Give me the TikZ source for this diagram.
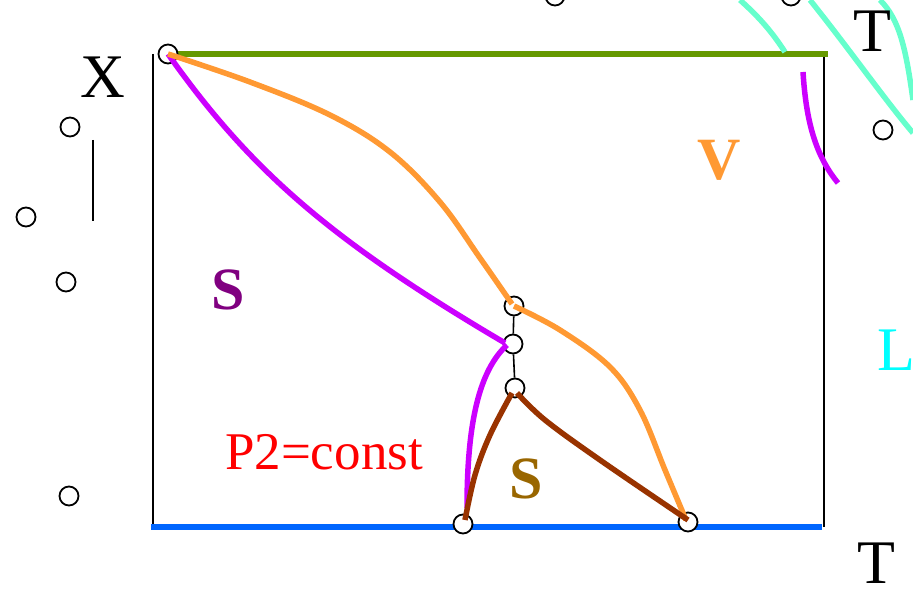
\documentclass[tikz,border=0pt]{standalone}
\usepackage{fontspec}
\setmainfont{Liberation Serif}
\begin{document}
\begin{tikzpicture}[x=1pt,y=-1pt,
  dot/.style={circle,draw=black,fill=white,line width=1.8pt,minimum size=19pt,inner sep=0pt},
  curve/.style={line width=5.5pt},
  frame/.style={line width=1.8pt,black},
  lbl/.style={font=\fontsize{62}{62}\selectfont,inner sep=0pt},
  blbl/.style={font=\fontsize{60}{60}\selectfont\bfseries,inner sep=0pt},
]
\definecolor{cpurple}{HTML}{CC00FF}
\definecolor{corange}{HTML}{FF9933}
\definecolor{cbrown}{HTML}{993300}
\definecolor{ccyan}{HTML}{66FFCC}
\definecolor{cgreen}{HTML}{669900}
\definecolor{cblue}{HTML}{0066FF}
\definecolor{cpS}{HTML}{800080}
\definecolor{cbS}{HTML}{996600}
\definecolor{cL}{HTML}{00FFFF}
\useasboundingbox (0,0) rectangle (913,591);

% frame
\coordinate (tl) at (153,54);
\coordinate (bl) at (153,527);
\coordinate (tr) at (824,56);
\coordinate (br) at (824,527);
\draw[frame] (tl) -- (bl);
\draw[frame] (tr) -- (br);
\coordinate (gl) at (168,54);
\coordinate (gr) at (828,54);
\draw[cgreen,line width=6pt] (gl) -- (gr);
\coordinate (bbl) at (151,527);
\coordinate (bbr) at (822,527);
\draw[cblue,line width=6pt] (bbl) -- (bbr);

% short black line
\coordinate (sl1) at (93,140);
\coordinate (sl2) at (93,221);
\draw[line width=1.8pt] (sl1) -- (sl2);

% circles
\node[dot] (c1) at (168,54) {};
\node[dot] (c2) at (70,127) {};
\node[dot] (c3) at (26,217) {};
\node[dot] (c4) at (66,282) {};
\node[dot] (c5) at (69,496) {};
\node[dot] (c6) at (555,-4) {};
\node[dot] (c7) at (791,-4) {};
\node[dot] (c8) at (883,130) {};
\node[dot] (j1) at (514,306) {};
\node[dot] (j2) at (513,344) {};
\node[dot] (j3) at (515,388) {};
\node[dot] (b1) at (463,524) {};
\node[dot] (b2) at (688,522) {};

% thin vertical
\draw[line width=1.6pt] (j1) -- (j2);
\draw[line width=1.6pt] (j2) -- (j3);

% cyan curves
\draw[ccyan,curve] (740,0) .. controls (760,18) and (772,32) .. (785,52);
\draw[ccyan,curve] (810,0) .. controls (850,50) and (885,100) .. (913,133);
\draw[ccyan,curve] (880,0) .. controls (900,20) and (906,50) .. (913,100);

% purple curves
\draw[cpurple,curve] (c1.center) .. controls (250,170) and (330,240) .. (505,343);
\draw[cpurple,curve] (507,345) .. controls (480,370) and (467,420) .. (467,508);
\draw[cpurple,curve] (803,72) .. controls (806,120) and (815,155) .. (838,183);

% orange curves
\draw[corange,curve] plot[smooth,tension=0.6] coordinates {(c1.center) (250,82) (330,115) (390,152) (440,202) (480,258) (512,304)};
\draw[corange,curve] plot[smooth,tension=0.6] coordinates {(j1.center) (560,330) (610,367) (640,410) (665,470) (686,520)};

% brown curves
\draw[cbrown,curve] plot[smooth,tension=0.6] coordinates {(465,520) (475,475) (490,435) (512,393)};
\draw[cbrown,curve] plot[smooth,tension=0.6] coordinates {(517,393) (545,420) (600,460) (688,520)};

% labels
\node[lbl] (tX) at (103,77) {X};
\node[lbl] (tT1) at (872,31) {T};
\node[lbl] (tT2) at (876,563) {T};
\node[lbl,text=cL] (tL) at (896,350) {L};
\node[blbl,text=corange] (tV) at (719,160) {V};
\node[blbl,text=cpS] (tS1) at (228,290) {S};
\node[blbl,text=cbS] (tS2) at (526,479) {S};
\node[font=\fontsize{53}{53}\selectfont,text=red,inner sep=0pt] (tP) at (324,452) {P2=const};
\end{tikzpicture}
\end{document}
